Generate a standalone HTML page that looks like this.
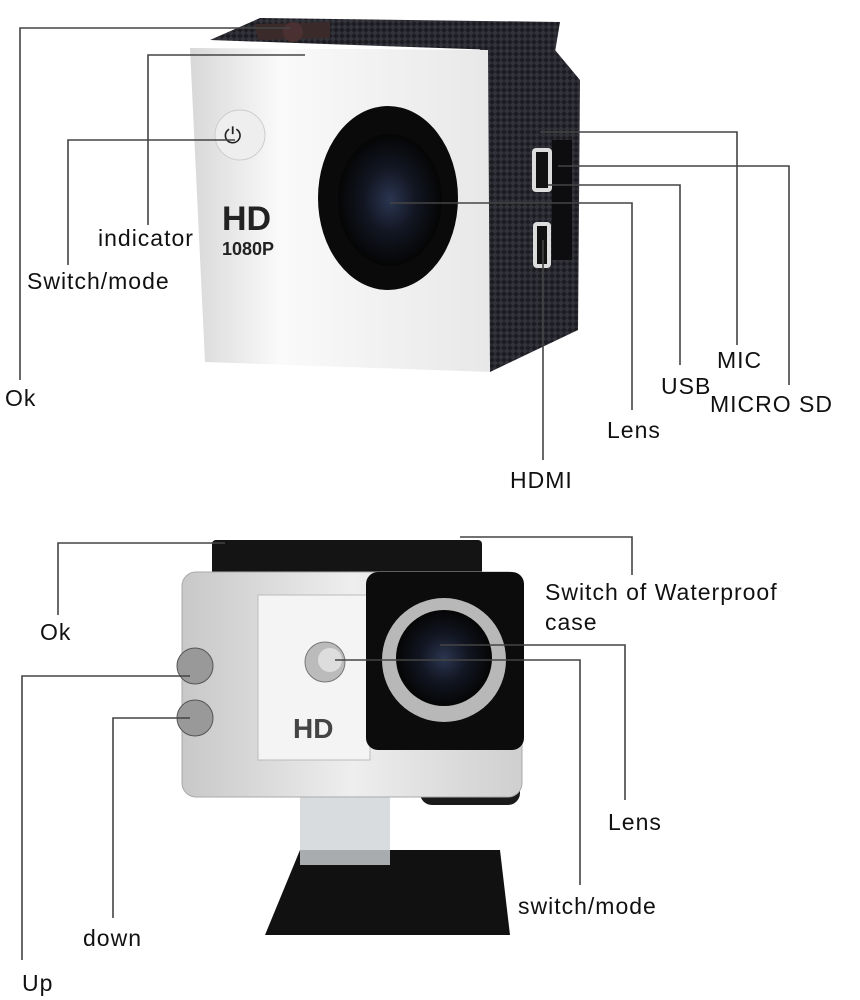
<!DOCTYPE html>
<html><head><meta charset="utf-8"><style>
html,body{margin:0;padding:0;background:#fff;}
svg{display:block}
text{font-family:"Liberation Sans",sans-serif;font-size:23px;letter-spacing:1px;fill:#111}
</style></head><body>
<svg width="860" height="1000" viewBox="0 0 860 1000" xmlns="http://www.w3.org/2000/svg">
<defs>
<pattern id="tex" width="6" height="6" patternUnits="userSpaceOnUse">
<rect width="6" height="6" fill="#1c1c22"/><path d="M0 3L3 0L6 3L3 6Z" fill="#33333c"/>
</pattern>
<radialGradient id="lens" cx="50%" cy="50%" r="50%">
<stop offset="0" stop-color="#2a3550"/><stop offset="0.5" stop-color="#121622"/><stop offset="1" stop-color="#050505"/>
</radialGradient>
<linearGradient id="wf" x1="0" x2="1"><stop offset="0" stop-color="#d8d8d8"/><stop offset="0.3" stop-color="#fafafa"/><stop offset="1" stop-color="#e8e8e8"/></linearGradient>
<linearGradient id="case" x1="0" x2="1"><stop offset="0" stop-color="#c8c8c8"/><stop offset="0.5" stop-color="#eeeeee"/><stop offset="1" stop-color="#cfcfcf"/></linearGradient>
</defs>

<polygon points="210,40 260,18 560,22 555,52" fill="url(#tex)"/>
<polygon points="480,42 555,50 580,80 578,330 490,372" fill="url(#tex)"/>
<polygon points="190,48 488,50 490,372 205,362" fill="url(#wf)"/>
<polygon points="255,24 330,22 330,38 258,40" fill="#3a2a2a"/>
<circle cx="293" cy="32" r="10" fill="#4a3030"/>
<circle cx="240" cy="135" r="25" fill="#eee" stroke="#ccc"/>
<text x="224" y="143" style="font-size:22px;letter-spacing:0;fill:#222">⏻</text>
<text x="222" y="230" style="font-size:34px;letter-spacing:0;font-weight:bold;fill:#222">HD</text>
<text x="222" y="255" style="font-size:18px;letter-spacing:0;font-weight:bold;fill:#222">1080P</text>
<ellipse cx="388" cy="198" rx="70" ry="92" fill="#0a0a0a"/>
<ellipse cx="390" cy="200" rx="52" ry="66" fill="url(#lens)"/>
<rect x="532" y="148" width="20" height="44" rx="4" fill="#ddd"/><rect x="536" y="152" width="12" height="36" fill="#111"/>
<rect x="533" y="222" width="18" height="46" rx="4" fill="#ddd"/><rect x="537" y="226" width="10" height="38" fill="#111"/>
<rect x="552" y="140" width="20" height="120" fill="#0d0d10"/>

<g stroke="#444" stroke-width="1.6" fill="none">
<polyline points="290,28 20,28 20,380"/>
<polyline points="305,55 148,55 148,225"/>
<polyline points="235,140 68,140 68,265"/>
<polyline points="540,132 737,132 737,345"/>
<polyline points="558,166 789,166 789,385"/>
<polyline points="548,185 680,185 680,365"/>
<polyline points="390,203 632,203 632,410"/>
<polyline points="543,240 543,460"/>
</g>
<text x="5" y="406">Ok</text>
<text x="98" y="246">indicator</text>
<text x="27" y="289">Switch/mode</text>
<text x="717" y="368">MIC</text>
<text x="661" y="394">USB</text>
<text x="710" y="412">MICRO SD</text>
<text x="607" y="438">Lens</text>
<text x="510" y="488">HDMI</text>

<rect x="212" y="540" width="270" height="40" rx="4" fill="#141414"/>
<polygon points="300,850 500,850 510,935 265,935" fill="#111"/>
<rect x="420" y="765" width="100" height="40" rx="12" fill="#1a1a1a"/>
<rect x="300" y="770" width="90" height="95" fill="#cfd3d6" opacity="0.8"/>
<rect x="182" y="572" width="340" height="225" rx="14" fill="url(#case)" stroke="#aaa"/>
<rect x="258" y="595" width="112" height="165" fill="#f4f4f4" stroke="#bbb"/>
<rect x="366" y="572" width="158" height="178" rx="12" fill="#0c0c0c"/>
<circle cx="444" cy="660" r="62" fill="#b8b8b8"/>
<circle cx="444" cy="658" r="48" fill="url(#lens)"/>
<circle cx="325" cy="662" r="20" fill="#bbb" stroke="#777"/><circle cx="330" cy="660" r="12" fill="#ddd"/>
<circle cx="195" cy="666" r="18" fill="#999" stroke="#555"/>
<circle cx="195" cy="718" r="18" fill="#999" stroke="#555"/>
<text x="293" y="738" style="font-size:28px;letter-spacing:0;font-weight:bold;fill:#444">HD</text>

<g stroke="#444" stroke-width="1.6" fill="none">
<polyline points="225,543 58,543 58,615"/>
<polyline points="460,537 632,537 632,575"/>
<polyline points="440,645 625,645 625,800"/>
<polyline points="335,660 580,660 580,885"/>
<polyline points="190,676 22,676 22,960"/>
<polyline points="190,718 113,718 113,918"/>
</g>
<text x="40" y="640">Ok</text>
<text x="545" y="600">Switch of Waterproof</text>
<text x="545" y="630">case</text>
<text x="608" y="830">Lens</text>
<text x="518" y="914">switch/mode</text>
<text x="83" y="946">down</text>
<text x="22" y="991">Up</text>
</svg>
</body></html>
